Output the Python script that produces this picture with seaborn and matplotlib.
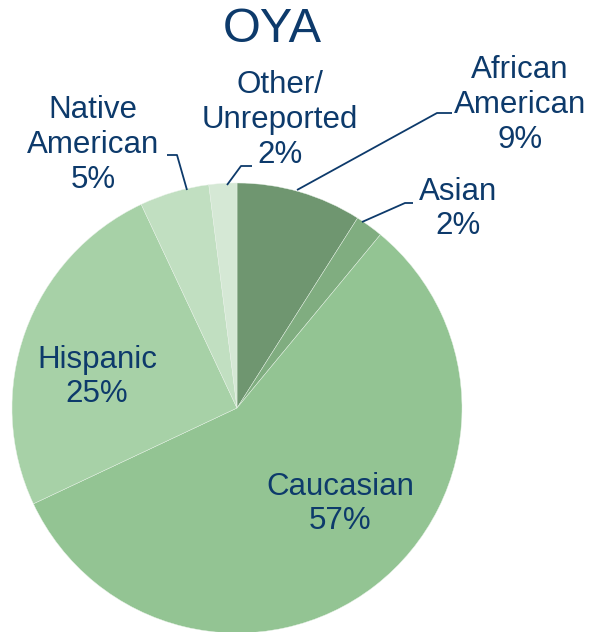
import matplotlib
matplotlib.use("Agg")
import matplotlib.pyplot as plt
import seaborn as sns
import numpy as np

categories = ["African\nAmerican", "Asian", "Caucasian", "Hispanic", "Native\nAmerican", "Other/\nUnreported"]
values = [9, 2, 57, 25, 5, 2]
colors = ["#6f9670", "#80ad80", "#93c493", "#a7d1a7", "#c1dfc1", "#d5e8d5"]
title = "OYA"

sns.set_theme(style="white")
plt.rcParams['font.family'] = ['Liberation Sans', 'DejaVu Sans']

TXT = "#0d3a6b"
W, H = 589, 632
fig = plt.figure(figsize=(W / 100, H / 100), dpi=100)
ax = fig.add_axes([0, 0, 1, 1])
cx, cy, R = 237, 408, 225

def d(px, py):
    return ((px - cx) / R, (cy - py) / R)

ax.pie(values, colors=colors, startangle=90, counterclock=False, radius=1,
       wedgeprops=dict(linewidth=0.3, edgecolor="#e8f2e8"))
ax.set_xlim((0 - cx) / R, (W - cx) / R)
ax.set_ylim((cy - H) / R, cy / R)
ax.set_aspect("auto")
ax.axis("off")

fs = 22.5
labels = [f"{c}\n{v}%" for c, v in zip(categories, values)]
pos = [(520, 105), (458, 209), (340, 504), (97, 377), (93, 145), (280, 120)]
for lab, (px, py) in zip(labels, pos):
    x, y = d(px, py)
    ax.text(x, y, lab, ha="center", va="center", fontsize=fs, color=TXT, linespacing=1.2)

# leader lines
leaders = [
    [(297, 190), (437, 113), (452, 113)],
    [(362, 222), (405, 203), (413, 203)],
    [(187, 190), (177, 155), (167, 155)],
    [(227, 185), (241, 166), (252, 166)],
]
for pts in leaders:
    xs, ys = zip(*[d(*p) for p in pts])
    ax.plot(xs, ys, color=TXT, lw=1.3, solid_capstyle="butt")

tx, ty = d(272, 30)
ax.text(tx, ty, title, ha="center", va="center", fontsize=35, color=TXT)

fig.savefig("out.png", dpi=100)
